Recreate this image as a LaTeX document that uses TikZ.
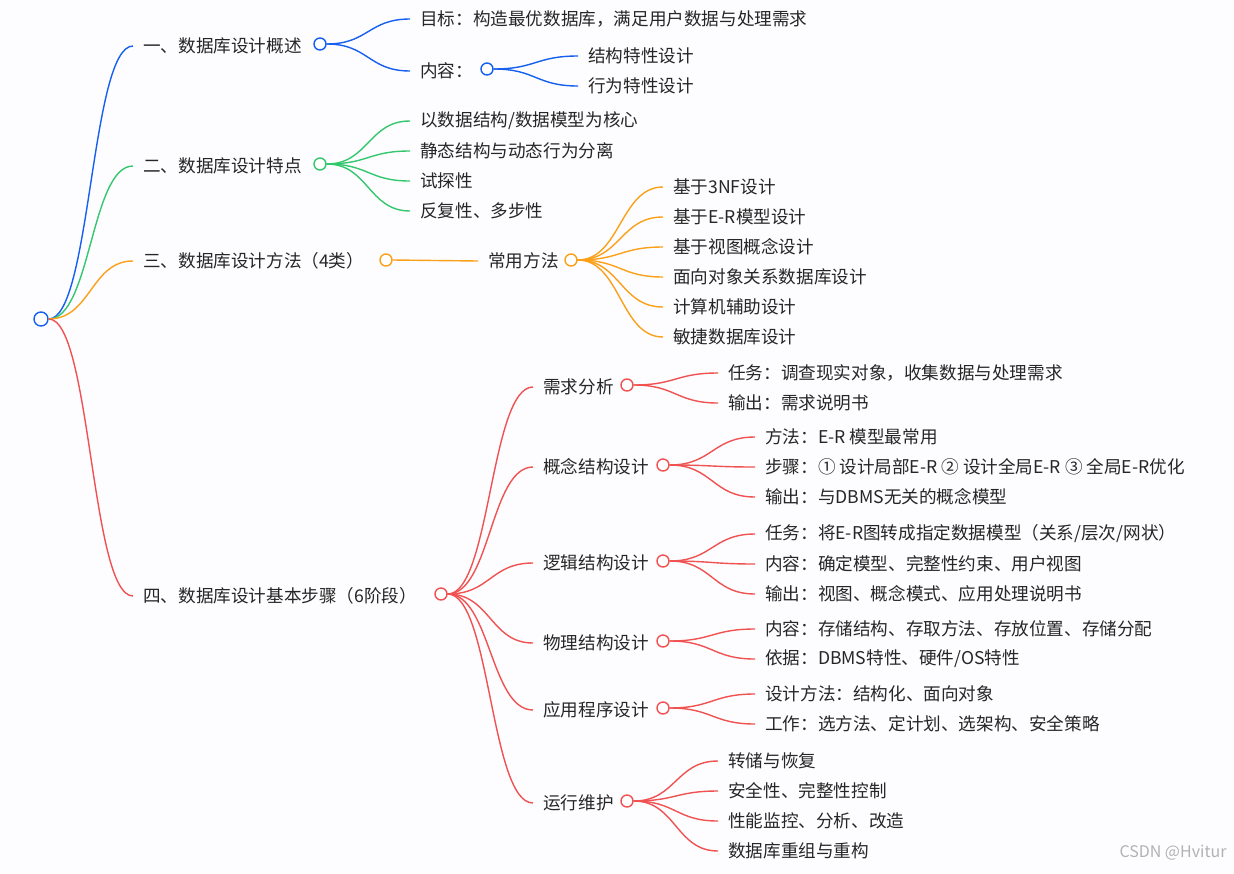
\documentclass[tikz,border=0pt]{standalone}
\usepackage{fontspec}
\setmainfont{Noto Sans CJK SC}
\usetikzlibrary{positioning,calc}
\definecolor{cA}{RGB}{22,96,240}
\definecolor{cB}{RGB}{52,200,110}
\definecolor{cC}{RGB}{250,160,25}
\definecolor{cD}{RGB}{240,82,82}
\tikzset{
  txt/.style={anchor=west,inner xsep=10pt,inner ysep=0pt,font=\fontsize{17.6}{20}\selectfont,text=black!85},
  dot/.style={circle,draw=#1,fill=white,line width=1.4pt,minimum size=12pt,inner sep=0pt},
  br/.style={draw=#1,line width=1.4pt},
}
\newcommand\twig[3]{\draw[br=#1] let \p1=(#2.east), \p2=(#3.west) in
  (\p1) .. controls ({(\x1+\x2)/2},\y1) and ({(\x1+\x2)/2},\y2) .. (\p2);}
\begin{document}
\begin{tikzpicture}[x=1pt,y=-1pt]
\fill[white!97!blue!20] (0,0) rectangle (1234,873);
\useasboundingbox (0,0) rectangle (1234,873);
\node[dot=cA,minimum size=14pt] (root) at (41,319) {};
% level 1
\node[txt] (a) at (133,46) {一、数据库设计概述};
\node[dot=cA] (ac) at (320,44) {};
\node[txt] (b) at (133,166) {二、数据库设计特点};
\node[dot=cB] (bc) at (320,164) {};
\node[txt] (c) at (133,261) {三、数据库设计方法（4类）};
\node[dot=cC] (cc) at (386,260) {};
\node[txt] (d) at (133,596) {四、数据库设计基本步骤（6阶段）};
\node[dot=cD] (dc) at (441,594) {};
\twig{cA}{root}{a}\twig{cB}{root}{b}\twig{cC}{root}{c}\twig{cD}{root}{d}
% overview
\node[txt] (a1) at (410,19) {目标：构造最优数据库，满足用户数据与处理需求};
\node[txt] (a2) at (410,71) {内容：};
\node[dot=cA] (a2c) at (487,69) {};
\twig{cA}{ac}{a1}\twig{cA}{ac}{a2}
\node[txt] (a21) at (578,56) {结构特性设计};
\node[txt] (a22) at (578,86) {行为特性设计};
\twig{cA}{a2c}{a21}\twig{cA}{a2c}{a22}
% features
\foreach \t [count=\i] in {以数据结构/数据模型为核心,静态结构与动态行为分离,试探性,反复性、多步性}{
  \node[txt] (b\i) at (410,91+30*\i) {\t};
  \twig{cB}{bc}{b\i}
}
% methods
\node[txt] (c1) at (478,261) {常用方法};
\node[dot=cC] (c1c) at (571,260) {};
\twig{cC}{cc}{c1}
\foreach \t [count=\i] in {基于3NF设计,基于E-R模型设计,基于视图概念设计,面向对象关系数据库设计,计算机辅助设计,敏捷数据库设计}{
  \node[txt] (c1\i) at (663,157+30*\i) {\t};
  \twig{cC}{c1c}{c1\i}
}
% steps
\foreach \t/\y/\x [count=\i] in {需求分析/387/627,概念结构设计/467/663,逻辑结构设计/563/663,物理结构设计/643/663,应用程序设计/710/663,运行维护/803/627}{
  \node[txt] (d\i) at (533,\y) {\t};
  \node[dot=cD] (d\i c) at (\x,\y-2) {};
  \twig{cD}{dc}{d\i}
}
\foreach \t [count=\i] in {任务：调查现实对象，收集数据与处理需求,输出：需求说明书}{
  \node[txt] (d1\i) at (718,343+30*\i) {\t}; \twig{cD}{d1c}{d1\i}}
\foreach \t [count=\i] in {方法：E-R 模型最常用,步骤：① 设计局部E-R ② 设计全局E-R ③ 全局E-R优化,输出：与DBMS无关的概念模型}{
  \node[txt] (d2\i) at (755,407+30*\i) {\t}; \twig{cD}{d2c}{d2\i}}
\foreach \t [count=\i] in {任务：将E-R图转成指定数据模型（关系/层次/网状）,内容：确定模型、完整性约束、用户视图,输出：视图、概念模式、应用处理说明书}{
  \node[txt] (d3\i) at (755,504+30*\i) {\t}; \twig{cD}{d3c}{d3\i}}
\foreach \t [count=\i] in {内容：存储结构、存取方法、存放位置、存储分配,依据：DBMS特性、硬件/OS特性}{
  \node[txt] (d4\i) at (755,599+30*\i) {\t}; \twig{cD}{d4c}{d4\i}}
\foreach \t [count=\i] in {设计方法：结构化、面向对象,工作：选方法、定计划、选架构、安全策略}{
  \node[txt] (d5\i) at (755,664+30*\i) {\t}; \twig{cD}{d5c}{d5\i}}
\foreach \t [count=\i] in {转储与恢复,安全性、完整性控制,性能监控、分析、改造,数据库重组与重构}{
  \node[txt] (d6\i) at (718,731+30*\i) {\t}; \twig{cD}{d6c}{d6\i}}
\node[anchor=east,font=\fontsize{16}{18}\selectfont,text=black!30] (wm) at (1230,853) {CSDN @Hvitur};
\end{tikzpicture}
\end{document}
